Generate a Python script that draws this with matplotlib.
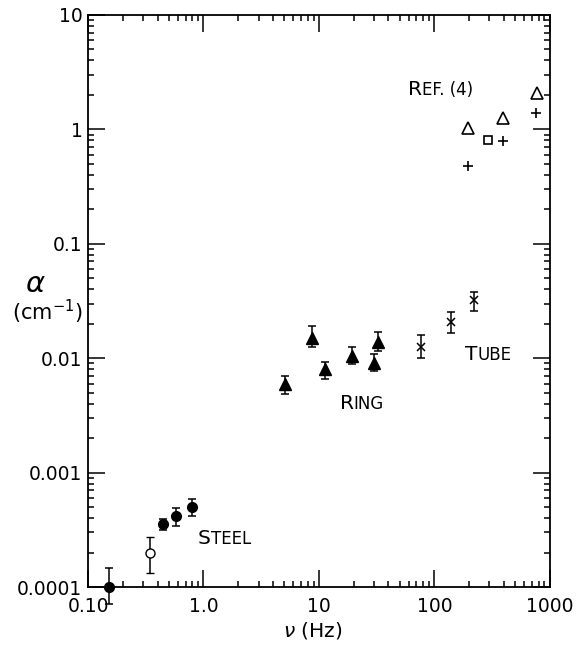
import matplotlib
matplotlib.use("Agg")
import matplotlib.pyplot as plt
import numpy as np

# steel (filled circles) and one open circle
steel_x = [0.152, 0.446, 0.578, 0.794]
steel_y = [1.0e-4, 3.56e-4, 4.18e-4, 5.0e-4]
steel_lo = [7.1e-5, 3.15e-4, 3.41e-4, 4.18e-4]
steel_hi = [1.47e-4, 3.95e-4, 4.91e-4, 5.87e-4]

open_x = [0.345]
open_y = [2.0e-4]
open_lo = [1.32e-4]
open_hi = [2.73e-4]

# ring (filled triangles)
ring_x = [5.08, 8.7, 11.3, 19.3, 29.9, 32.4]
ring_y = [5.94e-3, 0.0150, 8.05e-3, 0.01045, 9.08e-3, 0.01387]
ring_lo = [4.86e-3, 0.01253, 6.58e-3, 8.89e-3, 7.73e-3, 0.01156]
ring_hi = [6.98e-3, 0.0191, 9.27e-3, 0.01253, 0.01089, 0.01694]

# tube (crosses)
tube_x = [76.4, 139, 220]
tube_y = [0.01253, 0.0207, 0.0323]
tube_lo = [0.01004, 0.0166, 0.0259]
tube_hi = [0.01596, 0.0254, 0.0379]

# ref. (4)
ref_tri_x = [195, 392, 771]
ref_tri_y = [1.03, 1.26, 2.08]
ref_sq_x = [290]
ref_sq_y = [0.808]
ref_plus_x = [195, 392, 757]
ref_plus_y = [0.479, 0.79, 1.39]

xticks = [0.1, 1, 10, 100, 1000]
xlabels = ["0.10", "1.0", "10", "100", "1000"]
yticks = [1e-4, 1e-3, 1e-2, 1e-1, 1, 10]
ylabels = ["0.0001", "0.001", "0.01", "0.1", "1", "10"]


def yerr(y, lo, hi):
    y = np.array(y)
    return [y - np.array(lo), np.array(hi) - y]


fig = plt.figure(figsize=(5.83, 6.48), dpi=100)
ax = fig.add_axes([0.151, 0.0941, 0.792, 0.8829])
ax.set_xscale("log")
ax.set_yscale("log")
ax.set_xlim(0.1, 1000)
ax.set_ylim(1e-4, 10)

ekw = dict(ecolor="black", elinewidth=1.1, capsize=3, capthick=1.1,
           linestyle="none", clip_on=False, zorder=3)

ax.errorbar(steel_x, steel_y, yerr=yerr(steel_y, steel_lo, steel_hi),
            fmt="o", ms=7, mfc="black", mec="black", **ekw)
ax.errorbar(open_x, open_y, yerr=yerr(open_y, open_lo, open_hi),
            fmt="o", ms=6.5, mfc="white", mec="black", mew=1.0, **ekw)
ax.errorbar(ring_x, ring_y, yerr=yerr(ring_y, ring_lo, ring_hi),
            fmt="^", ms=8, mfc="black", mec="black", **ekw)
ax.errorbar(tube_x, tube_y, yerr=yerr(tube_y, tube_lo, tube_hi),
            fmt="x", ms=6, mec="black", mew=1.1, **ekw)

ax.plot(ref_tri_x, ref_tri_y, "^", ms=8, mfc="none", mec="black", mew=1.2)
ax.plot(ref_sq_x, ref_sq_y, "s", ms=6, mfc="none", mec="black", mew=1.2)
ax.plot(ref_plus_x, ref_plus_y, "+", ms=7, mec="black", mew=1.2)

ax.set_xticks(xticks)
ax.set_xticklabels(xlabels)
ax.set_yticks(yticks)
ax.set_yticklabels(ylabels)
ax.tick_params(which="both", direction="in", top=True, right=True,
               labelsize=13.5, width=1.1)
ax.tick_params(which="major", length=12.5)
ax.tick_params(which="minor", length=4.5)
ax.tick_params(axis="x", which="major", pad=7)
ax.tick_params(axis="y", which="major", pad=4)
for s in ax.spines.values():
    s.set_linewidth(1.3)


def smallcaps(x, y, first, rest):
    t = ax.text(x, y, first, transform=ax.transAxes, fontsize=14.5,
                va="baseline", ha="left")
    ax.annotate(rest, xy=(1, 0), xycoords=t, fontsize=12,
                va="bottom", ha="left")


smallcaps(0.693, 0.860, "R", "EF. (4)")
smallcaps(0.545, 0.311, "R", "ING")
smallcaps(0.816, 0.397, "T", "UBE")
smallcaps(0.238, 0.075, "S", "TEEL")

fig.text(0.060, 0.562, r"$\alpha$", fontsize=21, ha="center", va="center")
fig.text(0.081, 0.519, r"(cm$^{-1}$)", fontsize=15, ha="center", va="center")
fig.text(0.537, 0.027, r"$\nu$ (Hz)", fontsize=14.5, ha="center", va="center")

fig.savefig("out.png", dpi=100)
